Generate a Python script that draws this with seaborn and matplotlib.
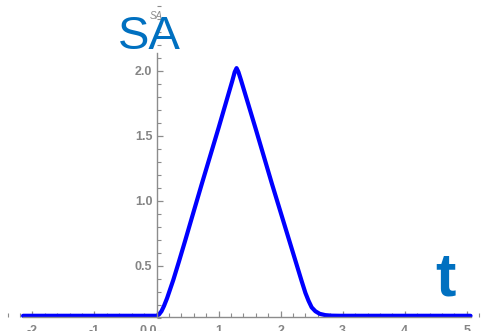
import matplotlib
matplotlib.use("Agg")
import matplotlib.pyplot as plt
import seaborn as sns
import pandas as pd
from matplotlib.ticker import MultipleLocator

t_values = [-2.15, -1.0, 0.0, 0.04, 0.08, 0.12, 0.17, 0.22, 0.27, 0.36, 0.46, 0.57, 0.73,
            1.0, 1.22, 1.26, 1.29, 1.32, 1.36, 1.6, 1.86, 2.02, 2.18, 2.34, 2.40,
            2.45, 2.50, 2.56, 2.63, 2.72, 2.82, 2.95, 4.0, 5.06]
sa_values = [0.115, 0.115, 0.115, 0.125, 0.15, 0.19, 0.25, 0.32, 0.39, 0.53, 0.69, 0.87, 1.13,
             1.56, 1.92, 1.99, 2.02, 1.99, 1.93, 1.55, 1.13, 0.88, 0.63, 0.38, 0.29,
             0.23, 0.18, 0.15, 0.13, 0.12, 0.116, 0.115, 0.115, 0.115]
x_ticks = [-2, -1, 0, 1, 2, 3, 4, 5]
x_tick_labels = ["-2", "-1", "0.0", "1", "2", "3", "4", "5"]
y_ticks = [0.5, 1.0, 1.5, 2.0]
y_tick_labels = ["0.5", "1.0", "1.5", "2.0"]

df = pd.DataFrame({"t": t_values, "SA": sa_values})

sns.set_theme(style="white")
plt.rcParams['font.family'] = ['Liberation Sans', 'DejaVu Sans']

fig = plt.figure(figsize=(4.83, 3.31), dpi=100)
ax = fig.add_axes([0, 0, 1, 1])
ax.patch.set_alpha(0)

sns.lineplot(data=df, x="t", y="SA", ax=ax, color="#0000FF", linewidth=3.0,
             solid_joinstyle="round", solid_capstyle="round")

ax.set_xlim(-2.522, 5.261)
ax.set_ylim(-0.002, 2.544)

axis_color = "#8c8c8c"
y_cross = 0.108
ax.spines["left"].set_position(("data", 0))
ax.spines["bottom"].set_position(("data", y_cross))
ax.spines["top"].set_visible(False)
ax.spines["right"].set_visible(False)
for s in ["left", "bottom"]:
    ax.spines[s].set_color(axis_color)
    ax.spines[s].set_linewidth(1.0)
    ax.spines[s].set_visible(True)
ax.spines["bottom"].set_bounds(-2.15, 5.06)
ax.spines["left"].set_bounds(y_cross, 2.14)

ax.set_xticks(x_ticks)
ax.set_xticklabels(x_tick_labels)
ax.set_yticks(y_ticks)
ax.set_yticklabels(y_tick_labels)
ax.xaxis.set_minor_locator(MultipleLocator(0.2))
ax.yaxis.set_minor_locator(MultipleLocator(0.1))
ax.tick_params(axis="both", which="both", bottom=True, left=True, top=False, right=False)
ax.tick_params(axis="both", which="major", direction="in", length=4.5, width=0.9,
               color=axis_color, labelcolor="#858585", labelsize=9)
ax.tick_params(axis="both", which="minor", direction="in", length=3, width=0.8,
               color=axis_color)
ax.tick_params(axis="y", which="major", pad=3)
ax.tick_params(axis="x", which="major", pad=6)
for lbl in ax.get_xticklabels():
    if lbl.get_text() == "0.0":
        lbl.set_horizontalalignment("right")
for lbl in ax.get_xticklabels() + ax.get_yticklabels():
    lbl.set_fontweight("bold")
ax.grid(False)
ax.set_xlabel("")
ax.set_ylabel("")

# small axis label
ax.text(0.0, 2.42, "SA", fontsize=7, style="italic", color="#8a8a8a",
        ha="center", va="center")
# big labels
ax.text(-0.63, 2.26, "SA", fontsize=34, color="#0070C0", ha="left", va="center")
ax.text(4.66, 0.39, "t", fontsize=44, color="#0070C0", ha="center", va="center",
        fontweight="bold")

fig.savefig("out.png", dpi=100)
